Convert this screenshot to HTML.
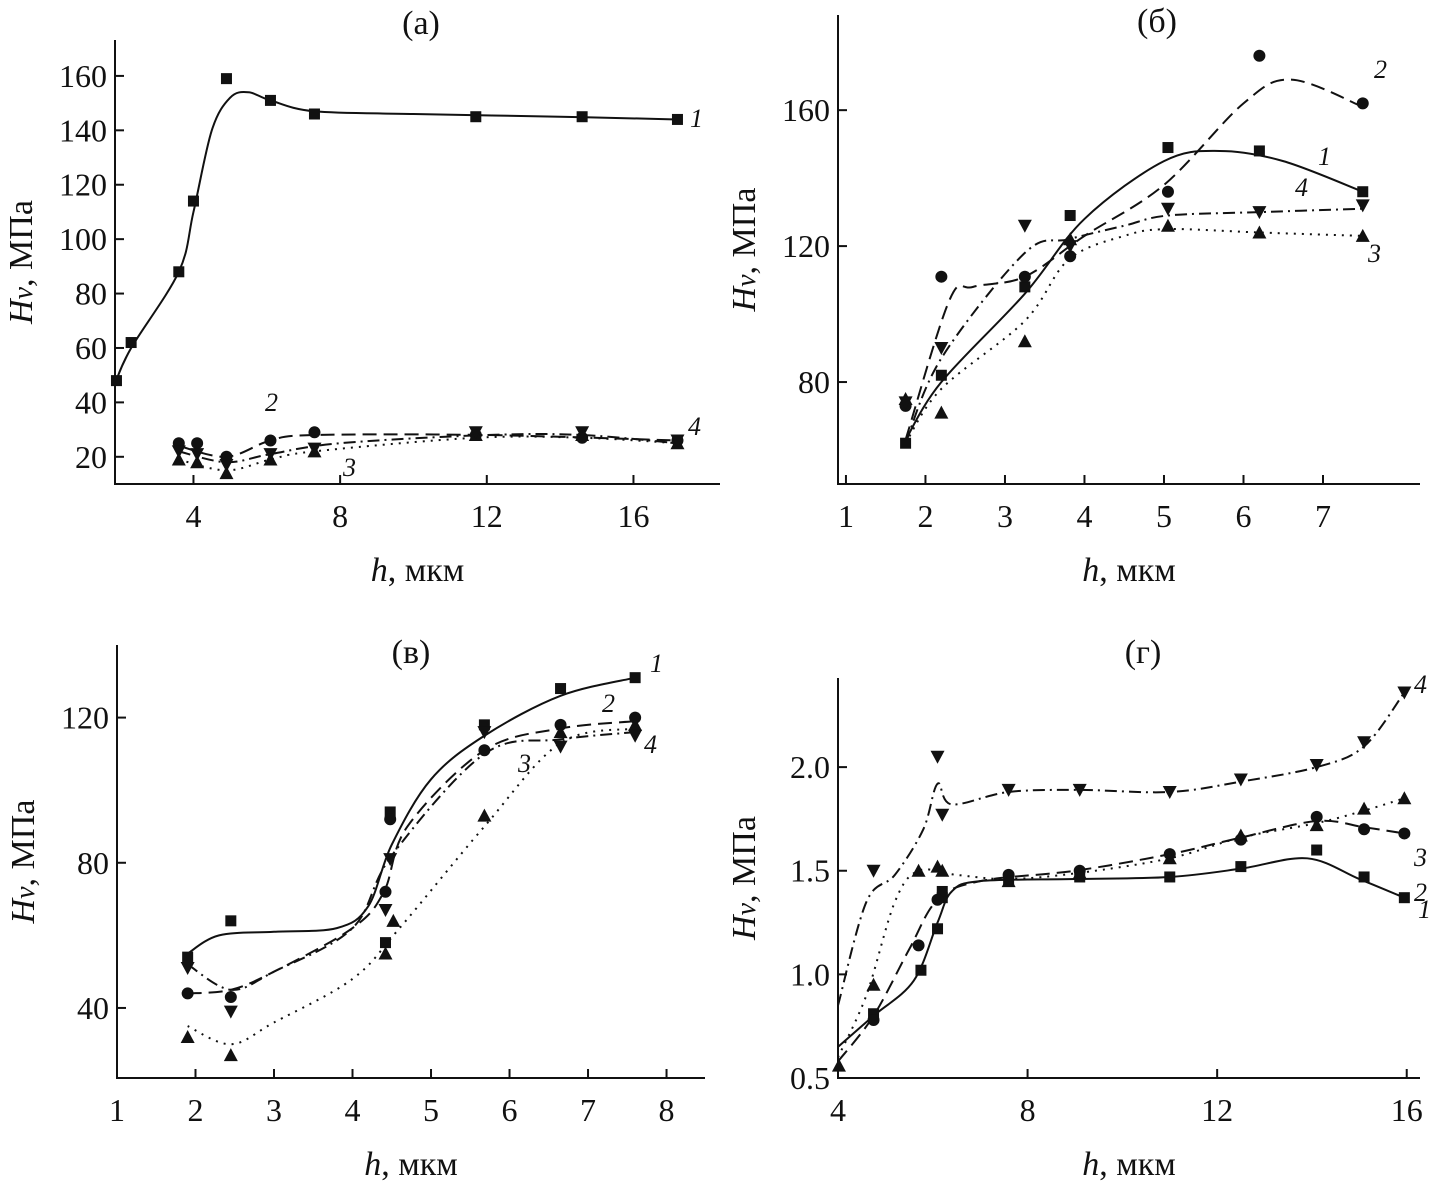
<!DOCTYPE html>
<html><head><meta charset="utf-8">
<style>
body{margin:0;background:#fff;}
svg text{font-family:"Liberation Serif",serif;fill:#111;}
</style></head>
<body>
<svg id="chart" width="1431" height="1195" viewBox="0 0 1431 1195" xmlns="http://www.w3.org/2000/svg"></svg>
<script>
// ---- Panel (a) data ----
const aS1=[[1.9,48],[2.3,62],[3.6,88],[4.0,114],[4.9,159],[6.1,151],[7.3,146],[11.7,145],[14.6,145],[17.2,144]];
const aS2=[[3.6,25],[4.1,25],[4.9,20],[6.1,26],[7.3,29],[11.7,28],[14.6,27],[17.2,26]];
const aS3=[[3.6,19],[4.1,18],[4.9,14],[6.1,19],[7.3,22],[11.7,28],[14.6,28],[17.2,25]];
const aS4=[[3.6,22],[4.1,21],[4.9,17],[6.1,21],[7.3,23],[11.7,29],[14.6,29],[17.2,26]];
const aC1=[[1.86,47],[2.3,60],[3.6,88],[4.0,110],[4.5,140],[5.0,152],[5.5,154],[6.1,151],[7.3,147],[10,146],[14,145],[17.2,144]];
const aC2=[[3.6,24],[4.9,20],[6.1,26],[7.3,28],[12,28],[17.2,26]];
const aC3=[[3.6,19],[4.9,15],[6.1,19],[7.3,22],[11.7,27],[14.6,27],[17.2,25]];
const aC4=[[3.6,22],[4.9,18],[6.1,21],[8,25],[12,28],[14.6,28],[17.2,25]];
const aXT=[4,8,12,16], aYT=[20,40,60,80,100,120,140,160];
// ---- Panel (б) data ----
const bX=[1.75,2.2,3.25,3.82,5.05,6.2,7.5];
const bS1=[62,82,108,129,149,148,136];
const bS2=[73,111,111,117,136,176,162];
const bS3=[75,71,92,122,126,124,123];
const bS4=[74,90,126,120,131,130,132];
const bC1=[[1.75,63],[2.2,80],[3.25,106],[4,128],[5,145],[5.7,148],[6.5,145],[7.5,136]];
const bC2=[[1.75,63],[2.3,104],[2.6,108],[3.25,111],[4,123],[5,138],[6,162],[6.6,169],[7.5,161]];
const bC3=[[1.75,62],[2.2,78],[3.25,98],[3.8,116],[4.5,123],[5.05,125],[6.2,124],[7.5,123]];
const bC4=[[1.75,62],[2.2,87],[3.25,118],[3.8,122],[4.5,126],[5.05,129],[6.2,130],[7.5,131]];
const bXT=[1,2,3,4,5,6,7], bYT=[80,120,160];
// ---- Panel (в) data ----
const cS1=[[1.9,54],[2.45,64],[4.42,58],[4.48,94],[5.68,118],[6.65,128],[7.6,131]];
const cS2=[[1.9,44],[2.45,43],[4.42,72],[4.48,92],[5.68,111],[6.65,118],[7.6,120]];
const cS3=[[1.9,32],[2.45,27],[4.42,55],[4.52,64],[5.68,93],[6.65,116],[7.6,118]];
const cS4=[[1.9,51],[2.45,39],[4.42,67],[4.48,81],[5.68,116],[6.65,112],[7.6,115]];
const cC1=[[1.9,55],[2.3,60],[3,61],[3.8,62],[4.2,68],[4.5,85],[5,103],[5.68,115],[6.65,126],[7.6,131]];
const cC2=[[1.9,44],[2.45,45],[3,50],[4,62],[4.4,72],[4.7,90],[5.68,111],[6.65,117],[7.6,119]];
const cC3=[[1.9,35],[2.45,30],[3,36],[4,48],[4.6,62],[5.68,90],[6.65,113],[7.6,117]];
const cC4=[[1.9,52],[2.45,45],[3,50],[4,62],[4.5,82],[5.68,110],[6.65,114],[7.6,116]];
const cXT=[1,2,3,4,5,6,7,8], cYT=[40,80,120];
// ---- Panel (г) data ----
const dS1=[[4.75,0.81],[5.75,1.02],[6.1,1.22],[6.2,1.37],[6.2,1.40],[7.6,1.45],[9.1,1.47],[11,1.47],[12.5,1.52],[14.1,1.60],[15.1,1.47],[15.95,1.37]];
const dS2=[[4.75,0.78],[5.7,1.14],[6.1,1.36],[7.6,1.48],[9.1,1.50],[11,1.58],[12.5,1.65],[14.1,1.76],[15.1,1.70],[15.95,1.68]];
const dS3=[[4.02,0.56],[4.75,0.95],[5.7,1.50],[6.1,1.52],[6.2,1.50],[7.6,1.45],[9.1,1.49],[11,1.56],[12.5,1.67],[14.1,1.72],[15.1,1.80],[15.95,1.85]];
const dS4=[[4.75,1.50],[6.1,2.05],[6.2,1.77],[7.6,1.89],[9.1,1.89],[11,1.88],[12.5,1.94],[14.1,2.01],[15.1,2.12],[15.95,2.36]];
const dC1=[[4,0.65],[4.75,0.8],[5.6,0.97],[6.1,1.25],[6.4,1.40],[7,1.45],[9,1.46],[11,1.47],[12.5,1.51],[13.9,1.56],[15,1.46],[15.95,1.37]];
const dC2=[[4,0.58],[4.75,0.8],[5.5,1.12],[6.1,1.36],[7,1.45],[9,1.50],[11,1.58],[12.5,1.66],[14.1,1.74],[15.1,1.71],[15.95,1.68]];
const dC3=[[4,0.6],[4.6,0.9],[5.2,1.35],[5.7,1.50],[6.5,1.48],[7.6,1.46],[9.1,1.49],[11,1.56],[12.5,1.66],[14.1,1.73],[15.1,1.79],[15.95,1.85]];
const dC4=[[4,0.85],[4.6,1.35],[5.2,1.48],[5.8,1.7],[6.1,1.92],[6.4,1.82],[7.6,1.88],[9.1,1.89],[11,1.88],[12.5,1.93],[14.1,2.0],[15.1,2.1],[15.95,2.36]];
const dXT=[4,8,12,16], dYT=[0.5,1.0,1.5,2.0], dYL=["0.5","1.0","1.5","2.0"];

const NS="http://www.w3.org/2000/svg";
const svg=document.getElementById('chart');
function mk(tag,attrs,parent){const e=document.createElementNS(NS,tag);for(const k in attrs)e.setAttribute(k,attrs[k]);(parent||svg).appendChild(e);return e;}
const dashes=["none","14,7","2,6","12,5,2,5"];

function panel(cfg){
  const g=mk('g',{});
  
  
  const X=v=>cfg.px0+(v-cfg.x0)/(cfg.x1-cfg.x0)*(cfg.px1-cfg.px0);
  const Y=v=>cfg.py0-(v-cfg.y0)/(cfg.y1-cfg.y0)*(cfg.py0-cfg.py1);
  const ax=mk('path',{d:`M${cfg.px0},${cfg.py1}V${cfg.py0}H${cfg.px1}`,fill:'none',stroke:'#111','stroke-width':2},g);
  
  
  cfg.xt.forEach(v=>{
    mk('line',{x1:X(v),x2:X(v),y1:cfg.py0,y2:cfg.py0-9,stroke:'#111','stroke-width':2},g);
    const t=mk('text',{x:X(v),y:cfg.py0+43,'font-size':32,'text-anchor':'middle'},g);
    t.textContent=v;
    
    
  });
  cfg.yt.forEach((v,i)=>{
    mk('line',{x1:cfg.px0,x2:cfg.px0+9,y1:Y(v),y2:Y(v),stroke:'#111','stroke-width':2},g);
    const t=mk('text',{x:cfg.px0-8,y:Y(v)+11,'font-size':32,'text-anchor':'end'},g);
    t.textContent=cfg.yl?cfg.yl[i]:v;
    
    
  });
  cfg.curves.forEach((c,i)=>{
    const p=c.map(q=>[X(q[0]),Y(q[1])]);
    let d=`M${p[0][0]},${p[0][1]}`;
    for(let k=0;k<p.length-1;k++){
      const p0=p[k-1]||p[k],p1=p[k],p2=p[k+1],p3=p[k+2]||p[k+1];
      d+=`C${p1[0]+(p2[0]-p0[0])/6},${p1[1]+(p2[1]-p0[1])/6} ${p2[0]-(p3[0]-p1[0])/6},${p2[1]-(p3[1]-p1[1])/6} ${p2[0]},${p2[1]}`;
    }
    const e=mk('path',{d,fill:'none',stroke:'#111','stroke-width':2,'stroke-dasharray':dashes[i]},g);
    
    
  });
  cfg.series.forEach((s,i)=>{
    s.forEach(q=>{
      const x=X(q[0]),y=Y(q[1]);let e;
      if(i===0)e=mk('rect',{x:x-5.5,y:y-5.5,width:11,height:11,fill:'#111'},g);
      else if(i===1)e=mk('circle',{cx:x,cy:y,r:6,fill:'#111'},g);
      else if(i===2)e=mk('path',{d:`M${x},${y-7}L${x+7},${y+6}L${x-7},${y+6}Z`,fill:'#111'},g);
      else e=mk('path',{d:`M${x},${y+7}L${x+7},${y-6}L${x-7},${y-6}Z`,fill:'#111'},g);
      
      
    });
  });
  cfg.nums.forEach(n=>{
    const t=mk('text',{x:n[1],y:n[2],'font-size':26,'font-style':'italic'},g);
    t.textContent=n[0];
    
    
  });
  const tt=mk('text',{x:cfg.tx,y:cfg.ty,'font-size':34,'text-anchor':'middle'},g);
  tt.textContent=cfg.title;
  
  
  const xl=mk('text',{x:(cfg.px0+cfg.px1)/2,y:cfg.py0+97,'font-size':34,'text-anchor':'middle'},g);
  xl.innerHTML='<tspan font-style="italic">h</tspan>, мкм';
  
  
  const cy=(cfg.py0+cfg.py1)/2, lx=cfg.px0-83;
  const yl=mk('text',{x:lx,y:cy,'font-size':34,'text-anchor':'middle',transform:`rotate(-90 ${lx} ${cy})`},g);
  yl.innerHTML='<tspan font-style="italic">H</tspan><tspan font-style="italic" font-size="28">v</tspan>, МПа';
  
  
}

panel({id:'a',title:'(а)',tx:421,ty:34,px0:115,px1:720,py0:484,py1:40,x0:1.86,x1:18.36,y0:10,y1:173.2,
  xt:aXT,yt:aYT,curves:[aC1,aC2,aC3,aC4],series:[aS1,aS2,aS3,aS4],
  nums:[['1',690,127],['2',265,411],['3',343,476],['4',688,435]]});
panel({id:'b',title:'(б)',tx:1157,ty:32,px0:838,px1:1420,py0:484,py1:15,x0:0.9,x1:8.22,y0:50,y1:188,
  xt:bXT,yt:bYT,curves:[bC1,bC2,bC3,bC4],series:[bS1.map((v,i)=>[bX[i],v]),bS2.map((v,i)=>[bX[i],v]),bS3.map((v,i)=>[bX[i],v]),bS4.map((v,i)=>[bX[i],v])],
  nums:[['2',1374,78],['1',1318,165],['4',1295,196],['3',1368,262]]});
panel({id:'c',title:'(в)',tx:411,ty:663,px0:117,px1:705,py0:1078,py1:645,x0:1,x1:8.49,y0:20.7,y1:140,
  xt:cXT,yt:cYT,curves:[cC1,cC2,cC3,cC4],series:[cS1,cS2,cS3,cS4],
  nums:[['1',650,672],['2',602,712],['3',518,772],['4',644,753]]});
panel({id:'d',title:'(г)',tx:1143,ty:663,px0:838,px1:1420,py0:1078,py1:678,x0:4,x1:16.28,y0:0.5,y1:2.43,
  xt:dXT,yt:dYT,yl:dYL,curves:[dC1,dC2,dC3,dC4],series:[dS1,dS2,dS3,dS4],
  nums:[['4',1414,693],['3',1414,866],['2',1414,901],['1',1418,918]]});
</script>
</body></html>
